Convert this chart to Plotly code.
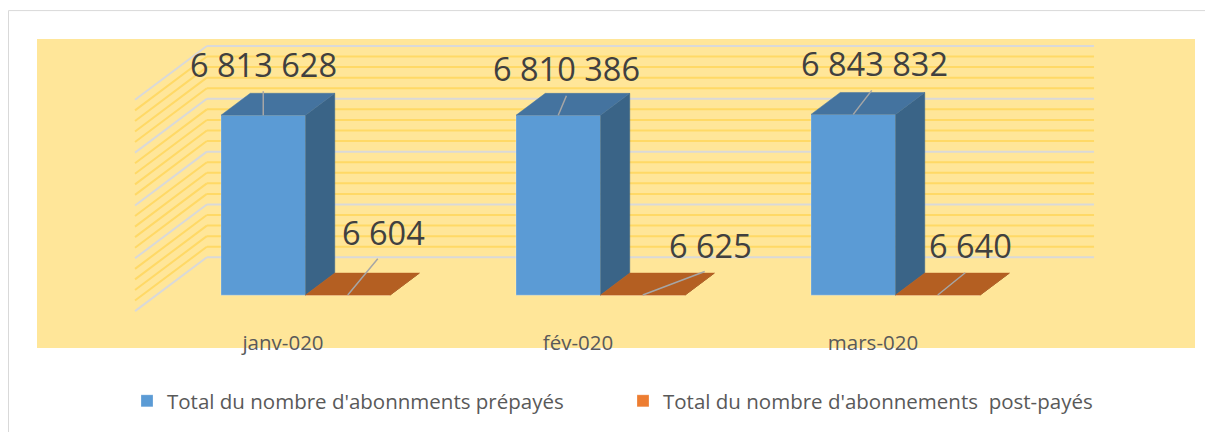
import plotly.graph_objects as go

# ---------------- data ----------------
categories = ["janv-020", "fév-020", "mars-020"]
prepaid = [6813628, 6810386, 6843832]
postpaid = [6604, 6625, 6640]
series_names = ["Total du nombre d'abonnments prépayés",
                "Total du nombre d'abonnements\u00a0 post-payés"]
axis_max = 8_000_000
major_step = 2_000_000
minor_step = 400_000

# ---------------- geometry / style ----------------
PAGE_OFF = 8  # default body margin of the html page
PX_PER_CAT = 295.0
VAL_PER_PX = major_step / 53.0
SLOPE = 1.33
BAR_W = 84.5 / PX_PER_CAT
BLUE_X0 = (221 - 283) / PX_PER_CAT
BAR_DEPTH = 22
WALL_D = 38
FLOOR_D = -16
WALL_X0 = -0.4295
WALL_X1 = 2.578
FONT = "Open Sans"

BLUE = "#5B9BD5"; BLUE_TOP = "#44739F"; BLUE_SIDE = "#3A6487"
ORANGE = "#ED7D31"; ORANGE_TOP = "#B45F22"; ORANGE_SIDE = "#8F4A1A"


def proj(xf, v, d):
    return xf + d * SLOPE / PX_PER_CAT, v + d * VAL_PER_PX


fig = go.Figure()
shapes = []

# walls with gridlines
v = 0
while v <= axis_max:
    major = (v % major_step == 0)
    col = "#D9D9D9" if major else "#FFD966"
    xa, ya = proj(WALL_X0, v, FLOOR_D)
    xb, yb = proj(WALL_X0, v, WALL_D)
    xc, yc = proj(WALL_X1, v, WALL_D)
    shapes.append(dict(type="line", xref="x", yref="y", x0=xa, y0=ya, x1=xb, y1=yb,
                       line=dict(color=col, width=2), layer="below"))
    shapes.append(dict(type="line", xref="x", yref="y", x0=xb, y0=yb, x1=xc, y1=yc,
                       line=dict(color=col, width=2), layer="below"))
    v += minor_step

# front faces (bars, also legend)
series = [(prepaid, BLUE, BLUE_TOP, BLUE_SIDE, 0), (postpaid, ORANGE, ORANGE_TOP, ORANGE_SIDE, 1)]
for (vals, col, ctop, cside, k), name in zip(series, series_names):
    xs = [i + BLUE_X0 + k * BAR_W + BAR_W / 2 for i in range(len(categories))]
    fig.add_trace(go.Bar(x=xs, y=vals, width=BAR_W, name=name,
                         marker=dict(color=col, line=dict(color="rgba(255,255,255,0.25)", width=1)),
                         hoverinfo="skip"))

# top and side faces
for (vals, col, ctop, cside, k) in series:
    for i, val in enumerate(vals):
        x0 = i + BLUE_X0 + k * BAR_W
        x1 = x0 + BAR_W
        pts = [proj(x1, 0, 0), proj(x1, val, 0), proj(x1, val, BAR_DEPTH), proj(x1, 0, BAR_DEPTH), proj(x1, 0, 0)]
        fig.add_trace(go.Scatter(x=[p[0] for p in pts], y=[p[1] for p in pts], mode="lines",
                                 fill="toself", fillcolor=cside, line=dict(color=cside, width=0.5),
                                 showlegend=False, hoverinfo="skip"))
        pts = [proj(x0, val, 0), proj(x1, val, 0), proj(x1, val, BAR_DEPTH), proj(x0, val, BAR_DEPTH), proj(x0, val, 0)]
        fig.add_trace(go.Scatter(x=[p[0] for p in pts], y=[p[1] for p in pts], mode="lines",
                                 fill="toself", fillcolor=ctop, line=dict(color=ctop, width=0.5),
                                 showlegend=False, hoverinfo="skip"))

# data labels with leader lines (pixel offsets)
leader = [  # (ax, ay) leader start, (xshift, yshift) text centre
    [((0, -26), (0, 51)), ((9, -21.5), (8, 47)), ((20, -26), (21, 51))],
    [((31.5, -38), (35.5, 63)), ((63.5, -24), (67.5, 50)), ((29, -23.5), (33, 50))],
]
annotations = []
for k, (vals, *_rest) in enumerate(series):
    for i, val in enumerate(vals):
        xc = i + BLUE_X0 + k * BAR_W + BAR_W / 2
        (ax, ay), (xs, ys) = leader[k][i]
        annotations.append(dict(x=xc, y=val, xref="x", yref="y", text=" ", showarrow=True,
                                arrowhead=0, arrowwidth=1.5, arrowcolor="#A6A6A6",
                                ax=ax, ay=ay, font=dict(size=1)))
        annotations.append(dict(x=xc, y=val, xref="x", yref="y", showarrow=False,
                                text=f"{val:,}".replace(",", " "), xshift=xs, yshift=ys,
                                font=dict(family=FONT, size=32.5, color="#404040")))

# outer chart border
shapes.append(dict(type="rect", xref="paper", yref="paper", x0=(8.5 - 37) / 1158, x1=1.1,
                   y0=-0.6, y1=(349 - 10.5) / 310, line=dict(color="#D9D9D9", width=1),
                   layer="below"))

fig.update_layout(
    width=1213 - PAGE_OFF, height=432 - PAGE_OFF,
    margin=dict(l=37 - PAGE_OFF, r=18, t=39 - PAGE_OFF, b=83),
    paper_bgcolor="white", plot_bgcolor="#FFE699",
    barmode="overlay",
    shapes=shapes, annotations=annotations,
    xaxis=dict(range=[(37 - 283) / PX_PER_CAT, (1195 - 283) / PX_PER_CAT],
               tickvals=list(range(len(categories))), ticktext=categories,
               showgrid=False, zeroline=False, showline=False, ticks="",
               ticklabelstandoff=-20,
               tickfont=dict(family=FONT, size=20.5, color="#595959"), fixedrange=True),
    yaxis=dict(range=[-(349 - 296) * VAL_PER_PX, (296 - 39) * VAL_PER_PX],
               visible=False, fixedrange=True),
    legend=dict(orientation="h", x=(127 - 37) / 1158, xanchor="left", y=(349 - 401) / 310,
                yanchor="middle", entrywidth=451, entrywidthmode="pixels",
                font=dict(family=FONT, size=20.5, color="#595959"), bgcolor="rgba(0,0,0,0)"),
    showlegend=True,
)

fig.write_html("out.html")
